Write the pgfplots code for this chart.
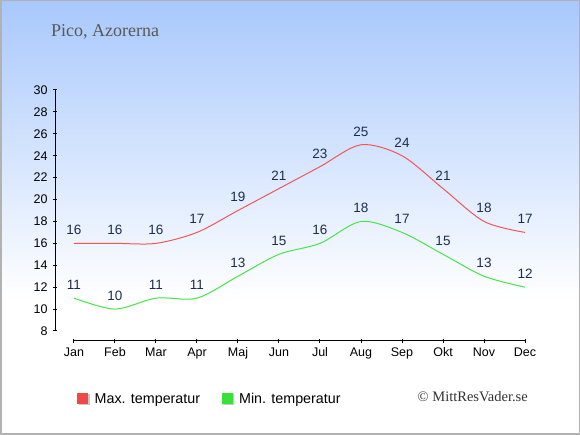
\documentclass[border=0pt]{standalone}
\usepackage{fontspec}
\setmainfont{Liberation Sans}
\newfontfamily\seriffont{Liberation Serif}
\usepackage{pgfplots}
\pgfplotsset{compat=1.18}
\definecolor{maxc}{HTML}{F05858}
\definecolor{minc}{HTML}{48E448}
\definecolor{maxsq}{HTML}{F04848}
\definecolor{minsq}{HTML}{38E038}
\definecolor{lab}{HTML}{1C2E4E}
\definecolor{bgtop}{HTML}{A8C8FC}
\begin{document}
\begin{tikzpicture}[x=1pt,y=1pt]
\useasboundingbox (0,0) rectangle (580,435);
\fill[white] (0,0) rectangle (580,435);
\shade[top color=bgtop, bottom color=white] (0,135) rectangle (580,435);
\draw[black!30, line width=1.5pt] (0.75,0.75) rectangle (579.25,434.25);
\node[anchor=base west, inner sep=0pt, text=black!65, font=\seriffont\fontsize{18}{21}\selectfont] at (51,398) {Pico, Azorerna};
\node[anchor=base east, inner sep=0pt, text=black!80, font=\seriffont\fontsize{14.5}{17}\selectfont] at (528,33.5) {© MittResVader.se};
\begin{axis}[
  at={(55pt,94pt)}, anchor=south west, scale only axis,
  width=470pt, height=251pt,
  xmin=-0.463, xmax=11, ymin=7.087, ymax=30,
  clip=false,
  axis line style={draw=none},
  xtick={0,...,11},
  xticklabels={Jan,Feb,Mar,Apr,Maj,Jun,Jul,Aug,Sep,Okt,Nov,Dec},
  ytick={8,10,...,30},
  xtick pos=bottom, ytick pos=left,
  tick align=center, major tick length=4pt,
  tick style={black, line width=1pt},
  /pgf/number format/assume math mode=true,
  ticklabel style={font=\fontsize{12.5}{15}\selectfont, text=black},
  yticklabel style={xshift=-2pt},
  xticklabel style={yshift=-1pt},
  nodes near coords,
  every node near coord/.append style={anchor=south, inner sep=0pt, yshift=8pt, font=\fontsize{13.5}{16}\selectfont, text=lab},
  legend columns=2,
  legend style={at={(0.0468,-0.231)}, anchor=west, draw=none, fill=none, inner sep=0pt,
    font=\fontsize{14.3}{17}\selectfont,
    /tikz/every even column/.append style={column sep=21.5pt},
    nodes={inner sep=0pt, text depth=0pt}},
]
\draw[black, line width=1pt] (axis cs:0,7.087) -- (axis cs:11,7.087);
\draw[black, line width=1pt] (axis cs:-0.463,8) -- (axis cs:-0.463,30);
\addplot[maxc, line width=1pt, smooth, mark=none,
  legend image code/.code={\fill[black!22] (1.5pt,-6.5pt) rectangle (11.5pt,3.5pt); \fill[maxsq] (0pt,-5pt) rectangle (10pt,5pt); \path (16.5pt,0pt);}]
  coordinates {(0,16) (1,16) (2,16) (3,17) (4,19) (5,21) (6,23) (7,25) (8,24) (9,21) (10,18) (11,17)};
\addlegendentry{Max. temperatur}
\addplot[minc, line width=1pt, smooth, mark=none,
  legend image code/.code={\fill[black!22] (1.5pt,-6.5pt) rectangle (11.5pt,3.5pt); \fill[minsq] (0pt,-5pt) rectangle (10pt,5pt); \path (16.5pt,0pt);}]
  coordinates {(0,11) (1,10) (2,11) (3,11) (4,13) (5,15) (6,16) (7,18) (8,17) (9,15) (10,13) (11,12)};
\addlegendentry{Min. temperatur}
\end{axis}
\end{tikzpicture}
\end{document}
